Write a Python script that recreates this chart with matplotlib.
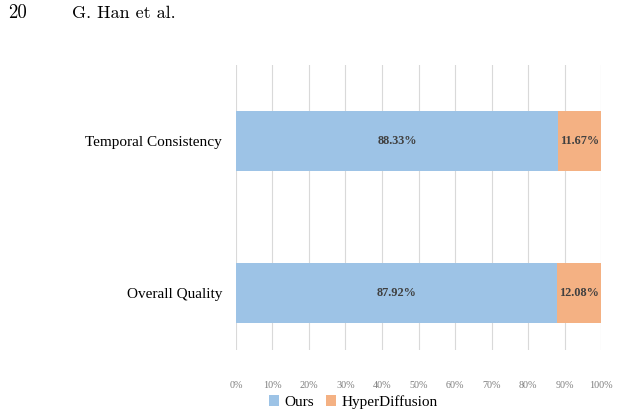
import matplotlib.pyplot as plt
from matplotlib.ticker import FuncFormatter

plt.rcParams['font.family'] = ['Liberation Serif', 'DejaVu Serif']

# --- Datos ---
categorias = ['Overall Quality', 'Temporal Consistency']
ours = [87.92, 88.33]
hyper = [12.08, 11.67]
series = ['Ours', 'HyperDiffusion']
colores = ['#9DC3E6', '#F4B183']

fig = plt.figure(figsize=(6.2, 4.17), dpi=100)
ax = fig.add_axes([0.3806, 0.1607, 0.5888, 0.6834])

y = list(range(len(categorias)))
ax.barh(y, ours, height=0.395, color=colores[0], label=series[0], zorder=2)
ax.barh(y, hyper, left=ours, height=0.395, color=colores[1], label=series[1], zorder=2)

for yi, a, b in zip(y, ours, hyper):
    ax.text(a / 2, yi, f'{a:.2f}%', ha='center', va='center',
            fontsize=8.8, fontweight='bold', color='#404040')
    ax.text(a + b / 2, yi, f'{b:.2f}%', ha='center', va='center',
            fontsize=8.8, fontweight='bold', color='#404040')

ax.set_xlim(0, 100)
ax.set_ylim(-0.375, 1.5)
ax.set_xticks(range(0, 101, 10))
ax.xaxis.set_major_formatter(FuncFormatter(lambda v, p: f'{int(v)}%'))
ax.set_yticks(y)
ax.set_yticklabels(categorias, fontsize=11)
ax.tick_params(axis='x', length=0, labelsize=7.3, labelcolor='#7f7f7f', pad=22)
ax.tick_params(axis='y', length=0, pad=10)
ax.grid(axis='x', color='#d9d9d9', linewidth=0.8, zorder=0)
for s in ax.spines.values():
    s.set_visible(False)

fig.legend(loc='center', bbox_to_anchor=(353 / 620, 1 - 402 / 417), ncol=2,
           frameon=False, fontsize=11, handlelength=0.7, handleheight=0.7,
           handletextpad=0.3, columnspacing=0.8)

fig.text(8 / 620, 1 - 13 / 417, '20', fontsize=13.5, va='center', ha='left',
         family='cmr10')
fig.text(72 / 620, 1 - 13 / 417, 'G. Han et al.', fontsize=13, va='center',
         ha='left', family='cmr10')

fig.savefig('out.png', dpi=100)
